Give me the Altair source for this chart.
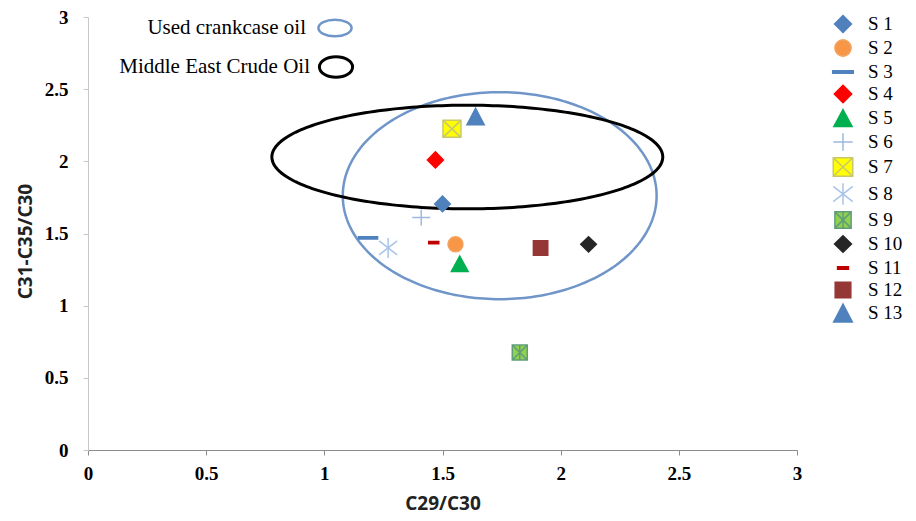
import altair as alt
import pandas as pd
import numpy as np

# ---- data ----
series = ["S 1", "S 2", "S 3", "S 4", "S 5", "S 6", "S 7",
          "S 8", "S 9", "S 10", "S 11", "S 12", "S 13"]
c29_c30 = [1.50, 1.555, 1.185, 1.47, 1.573, 1.41, 1.54,
           1.27, 1.827, 2.118, 1.463, 1.915, 1.64]
c31_c35_c30 = [1.705, 1.425, 1.47, 2.01, 1.29, 1.61, 2.225,
               1.40, 0.676, 1.425, 1.437, 1.40, 2.31]

fills = ["#4F81BD", "#F79646", "#4F81BD", "#FF0000", "#00B050", "transparent",
         "#FFFF00", "transparent", "#92D050", "#262626", "#C00000", "#953735", "#4F81BD"]
strokes = ["#4F81BD", "#F4A460", "#4F81BD", "#FF0000", "#00B050", "#9DB9E0",
           "#C8C86A", "#A9C4E8", "#5E9E78", "#262626", "#C00000", "#953735", "#4F81BD"]
shapes = [
    "M 0 -0.78 L 0.78 0 L 0 0.78 L -0.78 0 Z",
    "M -0.75 0 A 0.75 0.75 0 1 0 0.75 0 A 0.75 0.75 0 1 0 -0.75 0 Z",
    "M -0.95 -0.12 L 0.95 -0.12 L 0.95 0.12 L -0.95 0.12 Z",
    "M 0 -0.8 L 0.8 0 L 0 0.8 L -0.8 0 Z",
    "M 0 -0.78 L 0.84 0.78 L -0.84 0.78 Z",
    "M -0.9 0 L 0.9 0 M 0 -0.8 L 0 0.8",
    "M -0.9 -0.85 L 0.9 -0.85 L 0.9 0.85 L -0.9 0.85 Z M -0.9 -0.85 L 0.9 0.85 M -0.9 0.85 L 0.9 -0.85",
    "M 0 -1 L 0 1 M -0.9 -0.7 L 0.9 0.7 M -0.9 0.7 L 0.9 -0.7",
    "M -0.75 -0.75 L 0.75 -0.75 L 0.75 0.75 L -0.75 0.75 Z M -0.75 -0.75 L 0.75 0.75 M -0.75 0.75 L 0.75 -0.75 M 0 -0.75 L 0 0.75",
    "M 0 -0.76 L 0.78 0 L 0 0.76 L -0.78 0 Z",
    "M -0.5 -0.12 L 0.5 -0.12 L 0.5 0.12 L -0.5 0.12 Z",
    "M -0.72 -0.72 L 0.72 -0.72 L 0.72 0.72 L -0.72 0.72 Z",
    "M 0 -0.82 L 0.86 0.82 L -0.86 0.82 Z",
]

ellipse_names = ["Used crankcase oil", "Middle East Crude Oil"]
ellipse_cx = [1.742, 1.605]
ellipse_cy = [1.762, 2.03]
ellipse_rx = [0.664, 0.827]
ellipse_ry = [0.717, 0.359]
ellipse_colors = ["#6F95C9", "#000000"]
ellipse_widths = [2.5, 3]

x_ticks = [0, 0.5, 1, 1.5, 2, 2.5, 3]
y_ticks = [0, 0.5, 1, 1.5, 2, 2.5, 3]

# ---- tables ----
points = pd.DataFrame({"series": series, "x": c29_c30, "y": c31_c35_c30})

t = np.linspace(0, 2 * np.pi, 241)
rows = []
for name, cx, cy, rx, ry in zip(ellipse_names, ellipse_cx, ellipse_cy, ellipse_rx, ellipse_ry):
    for i, a in enumerate(t):
        rows.append({"name": name, "i": i, "x": cx + rx * np.cos(a), "y": cy + ry * np.sin(a)})
ell = pd.DataFrame(rows)

font_serif = "Liberation Serif"
font_title = "Open Sans"

x_enc = alt.X("x:Q", scale=alt.Scale(domain=[0, 3], nice=False),
              axis=alt.Axis(values=x_ticks, format="~g", title="C29/C30", grid=False,
                            domainColor="#8C8C8C", tickColor="#8C8C8C", tickSize=5,
                            labelFont=font_serif, labelFontWeight="bold", labelFontSize=19,
                            labelColor="black", labelPadding=9, labelFlush=False,
                            titleFont=font_title, titleFontWeight="bold", titleFontSize=19,
                            titleColor="#222222", titleY=53, titleBaseline="middle"))
y_enc = alt.Y("y:Q", scale=alt.Scale(domain=[0, 3], nice=False),
              axis=alt.Axis(values=y_ticks, format="~g", title="C31-C35/C30", grid=False,
                            domainColor="#C8C8C8", tickColor="#C8C8C8", tickSize=5,
                            labelFont=font_serif, labelFontWeight="bold", labelFontSize=19,
                            labelColor="black", labelPadding=15, labelFlush=False,
                            titleFont=font_title, titleFontWeight="bold", titleFontSize=19,
                            titleColor="#222222", titleX=-63, titleY=224,
                            titleBaseline="middle"))

ellipses = alt.Chart(ell).mark_line(clip=False).encode(
    x=alt.X("x:Q"), y=alt.Y("y:Q"),
    detail="name:N",
    order="i:Q",
    color=alt.Color("name:N", scale=alt.Scale(domain=ellipse_names, range=ellipse_colors), legend=None),
    strokeWidth=alt.StrokeWidth("name:N", scale=alt.Scale(domain=ellipse_names, range=ellipse_widths), legend=None),
)

leg = alt.Legend(title=None)
pts = alt.Chart(points).mark_point(size=400, opacity=1, strokeWidth=1.5).encode(
    x=x_enc, y=y_enc,
    shape=alt.Shape("series:N", scale=alt.Scale(domain=series, range=shapes), legend=leg),
    fill=alt.Fill("series:N", scale=alt.Scale(domain=series, range=fills), legend=leg),
    stroke=alt.Stroke("series:N", scale=alt.Scale(domain=series, range=strokes), legend=leg),
)

# key for the two ellipses (top-left)
key_text1 = alt.Chart(pd.DataFrame({"t": [ellipse_names[0]]})).mark_text(
    align="right", baseline="middle", font=font_serif, fontSize=21, color="black"
).encode(text="t:N", x=alt.value(218), y=alt.value(11))
key_text2 = alt.Chart(pd.DataFrame({"t": [ellipse_names[1]]})).mark_text(
    align="right", baseline="middle", font=font_serif, fontSize=21, color="black"
).encode(text="t:N", x=alt.value(222), y=alt.value(50))
key_icon1 = alt.Chart(pd.DataFrame({"t": [ellipse_names[0]]})).mark_point(
    shape="M -1 0 A 1 0.5 0 1 0 1 0 A 1 0.5 0 1 0 -1 0 Z", size=1100, filled=False,
    stroke=ellipse_colors[0], strokeWidth=2.5, opacity=1
).encode(x=alt.value(247), y=alt.value(11))
key_icon2 = alt.Chart(pd.DataFrame({"t": [ellipse_names[1]]})).mark_point(
    shape="M -1 0 A 1 0.62 0 1 0 1 0 A 1 0.62 0 1 0 -1 0 Z", size=1100, filled=False,
    stroke=ellipse_colors[1], strokeWidth=3, opacity=1
).encode(x=alt.value(248), y=alt.value(50))

chart = alt.layer(ellipses, pts, key_text1, key_text2, key_icon1, key_icon2).resolve_scale(
    color="independent", strokeWidth="independent"
).properties(
    width=709, height=433,
    autosize=alt.AutoSizeParams(type="none"),
    padding={"left": 80, "top": 9, "right": 111, "bottom": 68},
    background="white",
).configure_view(stroke=None).configure_legend(
    orient="none", legendX=743, legendY=-5, padding=0,
    labelFont=font_serif, labelFontSize=19, labelColor="black",
    symbolSize=470, symbolStrokeWidth=1.5, rowPadding=0, labelOffset=13,
)

chart.save("out.html", embed_options={"renderer": "svg", "actions": False})
